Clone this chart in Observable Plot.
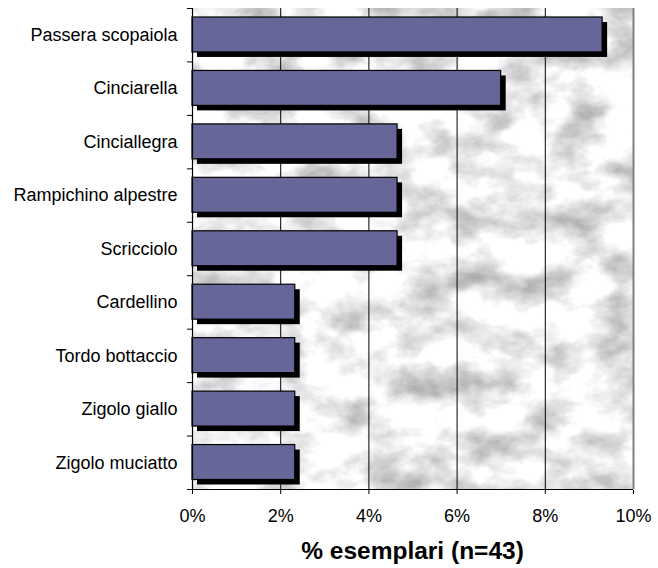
<!DOCTYPE html>
<html>
<head>
<meta charset="utf-8">
<script src="https://cdn.jsdelivr.net/npm/d3@7"></script>
<script src="https://cdn.jsdelivr.net/npm/@observablehq/plot@0.6"></script>
<style>
  html, body { margin: 0; padding: 0; background: white; overflow: hidden; }
  #title { margin-left: 192px; width: 441px; text-align: center; font: bold 24.5px "Liberation Sans", Arial, sans-serif; line-height: 30px; padding-top: 6px; color: #000; }
</style>
</head>
<body>
<div id="chart"></div>
<div id="title">% esemplari (n=43)</div>
<script>
const species = ["Passera scopaiola", "Cinciarella", "Cinciallegra", "Rampichino alpestre", "Scricciolo", "Cardellino", "Tordo bottaccio", "Zigolo giallo", "Zigolo muciatto"];
const percent = [9.3, 7.0, 4.65, 4.65, 4.65, 2.33, 2.33, 2.33, 2.33];
const xTicks = [0, 2, 4, 6, 8, 10];
const innerGrid = [2, 4, 6, 8];
const outerGrid = [10];

const data = species.map((name, i) => ({name, i, value: percent[i]}));
const boundaries = d3.range(species.length + 1);

const plot = Plot.plot({
  width: 658,
  height: 530,
  marginLeft: 192,
  marginRight: 25,
  marginTop: 8,
  marginBottom: 41,
  style: {fontFamily: '"Liberation Sans", Arial, sans-serif', fontSize: "18px", background: "white", color: "#000"},
  x: {domain: [0, 10], ticks: xTicks, tickFormat: d => d + "%", tickSize: 5, tickPadding: 15, label: null},
  y: {domain: [0, species.length], reverse: true, ticks: boundaries, tickFormat: () => "", tickSize: 5, tickPadding: 0, label: null},
  marks: [
    Plot.frame({fill: "#e8e8ea"}),
    Plot.ruleX(innerGrid, {stroke: "#000", strokeWidth: 1}),
    Plot.ruleX(outerGrid, {stroke: "#808080", strokeWidth: 2}),
    Plot.rectX(data, {x1: 0, x2: "value", y1: "i", y2: d => d.i + 1, insetTop: 9, insetBottom: 9.5, dx: 5, dy: 5, fill: "#000"}),
    Plot.rectX(data, {x1: 0, x2: "value", y1: "i", y2: d => d.i + 1, insetTop: 9, insetBottom: 9.5, fill: "#666699", stroke: "#000", strokeWidth: 1.2}),
    Plot.ruleX([0], {stroke: "#000", strokeWidth: 1.2}),
    Plot.ruleY([species.length], {stroke: "#000", strokeWidth: 1.2}),
    Plot.text(data, {y: d => d.i + 0.5, text: "name", frameAnchor: "left", textAnchor: "end", dx: -15, fill: "#000"})
  ]
});

// marble-like texture for the plot background
const ns = "http://www.w3.org/2000/svg";
const defs = document.createElementNS(ns, "defs");
defs.innerHTML = `
<filter id="marble" x="0%" y="0%" width="100%" height="100%" color-interpolation-filters="sRGB">
  <feTurbulence type="fractalNoise" baseFrequency="0.02 0.03" numOctaves="5" seed="5" result="noise"/>
  <feColorMatrix in="noise" type="matrix" values="-0.7 0 0 0 1.28  -0.7 0 0 0 1.28  -0.7 0 0 0 1.29  0 0 0 0 1"/>
</filter>`;
plot.insertBefore(defs, plot.firstChild);
const frameRect = plot.querySelector('[aria-label="frame"] rect') || plot.querySelector('[aria-label="frame"]');
if (frameRect) frameRect.setAttribute("filter", "url(#marble)");

document.getElementById("chart").appendChild(plot);
</script>
</body>
</html>
